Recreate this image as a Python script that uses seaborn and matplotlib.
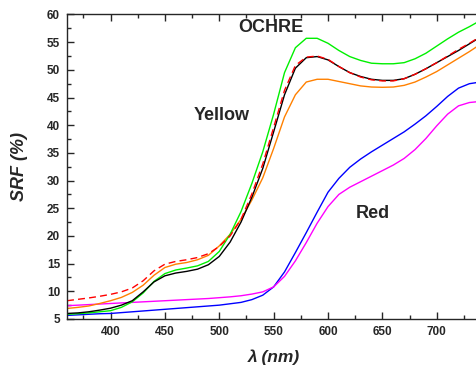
import numpy as np
import pandas as pd
import matplotlib
matplotlib.use("Agg")
import matplotlib.pyplot as plt
from matplotlib.ticker import MultipleLocator
import seaborn as sns

#%% data (10 nm steps)
wavelength = list(range(360, 750, 10))

ochre_black = [6.0, 6.1, 6.3, 6.6, 6.95, 7.5, 8.3, 9.9, 11.7, 12.8, 13.3, 13.6, 14.0,
               14.8, 16.3, 18.9, 22.5, 27.0, 32.2, 38.8, 45.5, 50.3, 52.2, 52.4, 51.8,
               50.6, 49.5, 48.8, 48.3, 48.1, 48.1, 48.4, 49.2, 50.2, 51.3, 52.4, 53.5,
               54.7, 55.9]
ochre_red = [8.3, 8.55, 8.8, 9.1, 9.45, 9.9, 10.6, 11.9, 13.7, 14.9, 15.4, 15.7, 16.1,
             16.8, 18.1, 20.0, 23.0, 27.6, 33.0, 39.6, 46.3, 50.8, 52.3, 52.5, 51.9,
             50.6, 49.5, 48.7, 48.2, 48.0, 48.0, 48.4, 49.2, 50.2, 51.3, 52.5, 53.7,
             54.8, 56.0]
yellow_orange = [6.9, 7.1, 7.35, 7.8, 8.3, 8.9, 9.8, 11.1, 12.9, 14.3, 14.9, 15.2, 15.7,
                 16.5, 18.2, 20.3, 23.0, 26.5, 30.5, 35.8, 41.5, 45.5, 47.8, 48.3, 48.3,
                 47.9, 47.5, 47.1, 46.9, 46.85, 46.9, 47.2, 47.8, 48.7, 49.7, 50.9, 52.1,
                 53.3, 54.6]
yellow_green = [5.85, 5.95, 6.1, 6.3, 6.5, 7.1, 8.1, 9.7, 11.8, 13.2, 13.85, 14.2, 14.6,
                15.4, 17.2, 20.3, 24.4, 29.5, 35.2, 42.0, 49.5, 54.0, 55.7, 55.7, 54.8,
                53.5, 52.4, 51.7, 51.2, 51.1, 51.1, 51.3, 52.0, 53.0, 54.3, 55.6, 56.8,
                57.8, 58.9]
red_blue = [5.65, 5.75, 5.85, 5.95, 6.0, 6.15, 6.3, 6.45, 6.6, 6.75, 6.9, 7.05, 7.2,
            7.35, 7.5, 7.75, 8.0, 8.5, 9.3, 10.8, 13.5, 17.0, 20.6, 24.3, 27.9, 30.4,
            32.4, 33.9, 35.2, 36.4, 37.6, 38.8, 40.2, 41.7, 43.4, 45.2, 46.7, 47.5, 47.8]
red_magenta = [7.4, 7.5, 7.6, 7.7, 7.8, 7.9, 8.0, 8.1, 8.2, 8.3, 8.4, 8.5, 8.6, 8.7,
               8.85, 9.0, 9.2, 9.5, 9.9, 10.8, 12.7, 15.5, 18.8, 22.3, 25.3, 27.5, 28.8,
               29.8, 30.8, 31.8, 32.8, 34.0, 35.6, 37.6, 39.9, 42.0, 43.5, 44.1, 44.3]

series = {
    "red_blue": red_blue,
    "red_magenta": red_magenta,
    "yellow_orange": yellow_orange,
    "yellow_green": yellow_green,
    "ochre_black": ochre_black,
    "ochre_red": ochre_red,
}
colors = {
    "red_blue": "#0000ff",
    "red_magenta": "#ff00ff",
    "yellow_orange": "#ff8000",
    "yellow_green": "#00f000",
    "ochre_black": "#000000",
    "ochre_red": "#ff0000",
}

df = pd.DataFrame({"wl": wavelength, **series})

#%% figure
sns.set_style("ticks")
plt.rcParams["font.family"] = ["Liberation Sans", "DejaVu Sans"]
plt.rcParams["font.weight"] = "bold"

fig = plt.figure(figsize=(4.77, 3.67), dpi=100)
ax = fig.add_axes([0.1405, 0.1308, 0.8595, 0.8297])

for name in series:
    sns.lineplot(data=df, x="wl", y=name, ax=ax, color=colors[name],
                 linewidth=1.0,
                 linestyle=(0, (5, 3)) if name == "ochre_red" else "-")

ax.set_xlim(360, 737)
ax.set_ylim(5, 60)
ax.xaxis.set_major_locator(MultipleLocator(50))
ax.xaxis.set_minor_locator(MultipleLocator(25))
ax.yaxis.set_major_locator(MultipleLocator(5))
ax.yaxis.set_minor_locator(MultipleLocator(2.5))
ax.tick_params(which="both", direction="in", top=True, right=False,
               width=1.0, labelsize=8.5, pad=5)
ax.tick_params(which="major", length=5)
ax.tick_params(which="minor", length=3)
for lab in ax.get_xticklabels() + ax.get_yticklabels():
    lab.set_fontweight("bold")
for s in ["left", "bottom", "top"]:
    ax.spines[s].set_linewidth(1.0)
ax.spines["right"].set_visible(False)

ax.set_xlabel("\u03bb (nm)", fontsize=12.5,
              fontweight="bold", fontstyle="italic", va="center")
ax.set_ylabel("SRF (%)", fontsize=13, fontweight="bold", fontstyle="italic",
              va="center")
ax.xaxis.set_label_coords(0.504, -0.124)
ax.yaxis.set_label_coords(-0.115, 0.5)

ax.text(547, 57.7, "OCHRE", fontsize=13, fontweight="bold", ha="center", va="center")
ax.text(502, 41.7, "Yellow", fontsize=13, fontweight="bold", ha="center", va="center")
ax.text(641.5, 24.0, "Red", fontsize=13, fontweight="bold", ha="center", va="center")

fig.savefig("out.png", dpi=100)
